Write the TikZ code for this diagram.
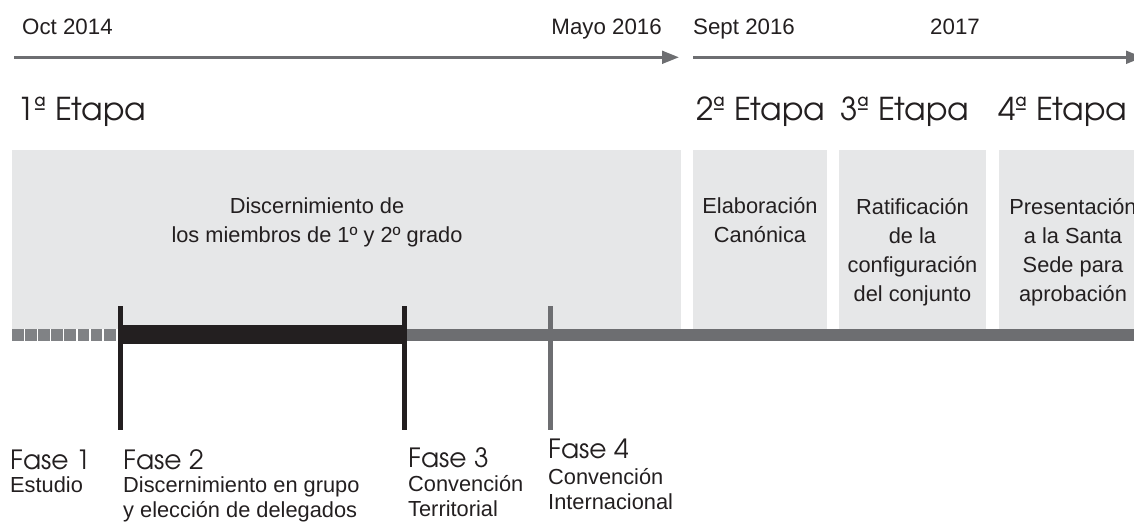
\documentclass[tikz,border=0pt]{standalone}
\usepackage{fontspec}
\setmainfont{Liberation Sans}
\newfontfamily\geo{texgyreadventor-regular.otf}
\usetikzlibrary{arrows.meta}
\definecolor{boxgray}{RGB}{230,231,232}
\definecolor{linegray}{RGB}{109,110,113}
\definecolor{dashgray}{RGB}{128,130,133}
\definecolor{ink}{RGB}{35,31,32}
\begin{document}
\begin{tikzpicture}[x=1pt,y=-1pt,
  datelbl/.style={font=\fontsize{22.3}{26}\selectfont, text=ink, inner sep=0pt},
  etapalbl/.style={font=\geo\fontsize{31.5}{40}\selectfont, text=ink, inner sep=0pt, anchor=base west},
  faselbl/.style={font=\geo\fontsize{26.5}{30}\selectfont, text=ink, inner sep=0pt, anchor=base west},
  desclbl/.style={font=\fontsize{21.8}{25}\selectfont, text=ink, inner sep=0pt, anchor=base west, align=left},
  boxtxt/.style={font=\fontsize{21.8}{29}\selectfont, text=ink, inner sep=0pt, anchor=base, align=center},
  etbox/.style={fill=boxgray, draw=none},
  timearrow/.style={draw=linegray, line width=3pt, -{Triangle[length=17pt,width=12.6pt]}},
  tick/.style={line width=5pt},
  dashsq/.style={fill=dashgray}
]
\clip (0,0) rectangle (1134,529);
\fill[white] (0,0) rectangle (1134,529);

% dates
\node[datelbl, anchor=base west] (d1) at (22,35) {Oct 2014};
\node[datelbl, anchor=base east] (d2) at (662,35) {Mayo 2016};
\node[datelbl, anchor=base west] (d3) at (693,35) {Sept 2016};
\node[datelbl, anchor=base west] (d4) at (930,35) {2017};

% time arrows
\coordinate (a1s) at (14,57.3);
\coordinate (a1e) at (679,57.3);
\coordinate (a2s) at (693,57.3);
\coordinate (a2e) at (1143,57.3);
\draw[timearrow] (a1s) -- (a1e);
\draw[timearrow] (a2s) -- (a2e);

% etapas
\node[etapalbl] (e1) at (17,121) {1ª Etapa};
\node[etapalbl] (e2) at (696,121) {2ª Etapa};
\node[etapalbl] (e3) at (840,121) {3ª Etapa};
\node[etapalbl] (e4) at (998,121) {4ª Etapa};

% boxes
\path[etbox] (12,150) rectangle (681,329);
\path[etbox] (693,150) rectangle (827,329);
\path[etbox] (839,150) rectangle (986,329);
\path[etbox] (999,150) rectangle (1150,329);

% multi-line nodes: base anchor = baseline of last line
\node[boxtxt] (t1) at (317,243) {Discernimiento de\\los miembros de 1º y 2º grado};
\node[boxtxt] (t2) at (760,243) {Elaboración\\Canónica};
\node[boxtxt] (t3) at (912.5,301) {Ratificación\\de la\\configuración\\del conjunto};
\node[boxtxt] (t4) at (1073,301) {Presentación\\a la Santa\\Sede para\\aprobación};

% main line
\fill[linegray] (118,329) rectangle (1134,341);
\foreach \i in {0,...,7} {
  \fill[dashsq] ({12+13.1*\i},329) rectangle ({23.8+13.1*\i},341);
}
\fill[ink] (118,325) rectangle (407,344);

% ticks
\coordinate (f2t) at (120.5,306); \coordinate (f2b) at (120.5,430);
\coordinate (f3t) at (404.5,306); \coordinate (f3b) at (404.5,430);
\coordinate (f4t) at (550,306);   \coordinate (f4b) at (550,430);
\draw[tick, ink] (f2t) -- (f2b);
\draw[tick, ink] (f3t) -- (f3b);
\draw[tick, linegray] (f4t) -- (f4b);

% fases
\node[faselbl] (p1) at (10,469) {Fase 1};
\node[faselbl] (p2) at (123,469) {Fase 2};
\node[faselbl] (p3) at (408,467) {Fase 3};
\node[faselbl] (p4) at (548,458) {Fase 4};

\node[desclbl] (q1) at (10,492) {Estudio};
\node[desclbl] (q2) at (123,517) {Discernimiento en grupo\\y elección de delegados};
\node[desclbl] (q3) at (408,516) {Convención\\Territorial};
\node[desclbl] (q4) at (548,509) {Convención\\Internacional};
\end{tikzpicture}
\end{document}
